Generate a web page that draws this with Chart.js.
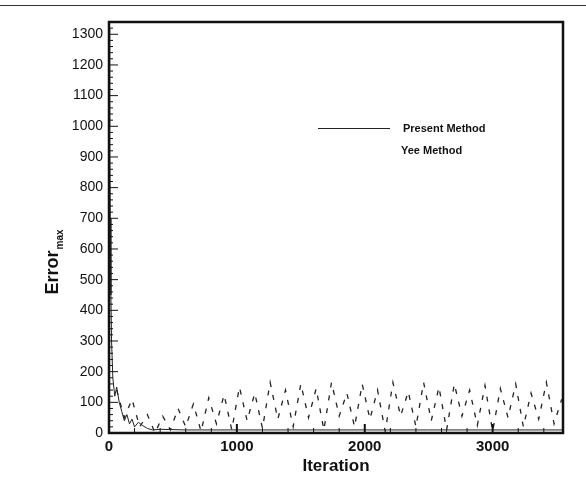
<!DOCTYPE html>
<html lang="en">
<head>
    <meta charset="UTF-8">
    <title>Error vs Iteration</title>
    <script src="https://cdn.jsdelivr.net/npm/chart.js"></script>
    <style>
        html, body {
            margin: 0;
            padding: 0;
            background: #fff;
        }

        .chart-container {
            width: 586px;
            height: 481px;
            position: relative;
        }
    </style>
</head>
<body>
<div class="chart-container">
    <canvas id="errorChart"></canvas>
</div>

<script>
    // tick labels
    const xTicks = [0, 1000, 2000, 3000];
    const yTicks = [0, 100, 200, 300, 400, 500, 600, 700, 800, 900, 1000, 1100, 1200, 1300];

    // Present Method: big spike at start, then flat near zero
    const presentIter = [0, 5, 10, 15, 20, 30, 45, 60, 80, 100, 120, 140, 160, 180, 200, 230, 260, 300, 340, 400, 600, 1000, 1500, 2000, 2500, 3000, 3550];
    const presentError = [1320, 1000, 700, 450, 300, 180, 120, 150, 100, 70, 40, 60, 30, 45, 20, 35, 25, 15, 10, 12, 10, 10, 10, 10, 10, 10, 10];

    // Yee Method: oscillating error
    const yeeIter = [60, 120, 180, 240, 300, 360, 420, 480, 540, 600, 660, 720, 780, 840, 900, 960, 1020, 1080, 1140, 1200,
        1260, 1320, 1380, 1440, 1500, 1560, 1620, 1680, 1740, 1800, 1860, 1920, 1980, 2040, 2100, 2160, 2220, 2280, 2340, 2400,
        2460, 2520, 2580, 2640, 2700, 2760, 2820, 2880, 2940, 3000, 3060, 3120, 3180, 3240, 3300, 3360, 3420, 3480, 3540];
    const yeeError = [140, 50, 110, 20, 60, 0, 55, 10, 80, 20, 95, 5, 115, 30, 125, 10, 150, 40, 130, 15,
        165, 45, 140, 20, 160, 50, 145, 10, 165, 55, 130, 20, 160, 45, 140, 5, 165, 55, 135, 20,
        165, 40, 150, 10, 160, 55, 140, 25, 155, 5, 145, 50, 160, 20, 130, 45, 165, 30, 110];

    const FONT = '"Liberation Sans", Arial, sans-serif';

    // frame, inward ticks, axis title with subscript, legend, page rule
    const decorations = {
        id: 'decorations',
        afterDraw(chart) {
            const ctx = chart.ctx;
            const area = chart.chartArea;
            const xs = chart.scales.x;
            const ys = chart.scales.y;
            ctx.save();
            ctx.strokeStyle = '#111';
            ctx.lineCap = 'butt';

            // ticks on left axis
            ctx.lineWidth = 1;
            for (let v = 0; v <= 1340; v += 20) {
                const y = ys.getPixelForValue(v);
                const len = v % 100 === 0 ? 9 : 4;
                ctx.beginPath();
                ctx.moveTo(area.left, y);
                ctx.lineTo(area.left + len, y);
                ctx.stroke();
            }
            // ticks on bottom axis
            for (let v = 0; v <= 3550; v += 200) {
                const x = xs.getPixelForValue(v);
                const len = v % 1000 === 0 ? 9 : 5;
                ctx.lineWidth = v % 1000 === 0 ? 2 : 1;
                ctx.beginPath();
                ctx.moveTo(x, area.bottom);
                ctx.lineTo(x, area.bottom - len);
                ctx.stroke();
            }

            // plot frame
            ctx.lineWidth = 2.5;
            ctx.strokeRect(area.left, area.top, area.right - area.left, area.bottom - area.top);

            // thin rule across the top of the page
            ctx.lineWidth = 1.2;
            ctx.strokeStyle = '#333';
            ctx.beginPath();
            ctx.moveTo(0, 5.5);
            ctx.lineTo(586, 5.5);
            ctx.stroke();

            // y axis title: Error with subscript max
            ctx.fillStyle = '#111';
            ctx.translate(52, 262);
            ctx.rotate(-Math.PI / 2);
            ctx.font = 'bold 18px ' + FONT;
            const w1 = ctx.measureText('Error').width;
            ctx.font = 'bold 10px ' + FONT;
            const w2 = ctx.measureText('max').width;
            const start = -(w1 + w2 + 1) / 2;
            ctx.textBaseline = 'alphabetic';
            ctx.font = 'bold 18px ' + FONT;
            ctx.fillText('Error', start, 6);
            ctx.font = 'bold 10px ' + FONT;
            ctx.fillText('max', start + w1 + 1, 11);
            ctx.setTransform(1, 0, 0, 1, 0, 0);

            // legend
            ctx.strokeStyle = '#222';
            ctx.lineWidth = 1;
            ctx.beginPath();
            ctx.moveTo(318, 128.5);
            ctx.lineTo(390, 128.5);
            ctx.stroke();
            ctx.font = 'bold 11px ' + FONT;
            ctx.textBaseline = 'middle';
            ctx.fillText('Present Method', 403, 129);
            ctx.fillText('Yee Method', 401, 151);
            ctx.restore();
        }
    };

    new Chart(document.getElementById('errorChart'), {
        type: 'line',
        data: {
            datasets: [
                {
                    label: 'Present Method',
                    data: presentIter.map((x, i) => ({x: x, y: presentError[i]})),
                    borderColor: '#222',
                    borderWidth: 1,
                    pointRadius: 0,
                    tension: 0,
                    fill: false
                },
                {
                    label: 'Yee Method',
                    data: yeeIter.map((x, i) => ({x: x, y: yeeError[i]})),
                    borderColor: '#222',
                    borderWidth: 1.3,
                    borderDash: [5, 8],
                    pointRadius: 0,
                    tension: 0,
                    fill: false
                }
            ]
        },
        options: {
            responsive: true,
            maintainAspectRatio: false,
            animation: false,
            layout: {
                padding: {top: 22, right: 23, left: 0, bottom: 0}
            },
            plugins: {
                legend: {display: false},
                tooltip: {enabled: false}
            },
            scales: {
                x: {
                    type: 'linear',
                    min: 0,
                    max: 3550,
                    afterBuildTicks: s => { s.ticks = xTicks.map(v => ({value: v})); },
                    afterFit: s => { s.height = 48; },
                    grid: {display: false, drawTicks: false},
                    border: {display: false},
                    ticks: {
                        color: '#111',
                        padding: 5,
                        maxRotation: 0,
                        callback: v => String(v),
                        font: {family: FONT, size: 15, weight: 'bold'}
                    },
                    title: {
                        display: true,
                        text: 'Iteration',
                        color: '#111',
                        padding: {top: 0, bottom: 4},
                        font: {family: FONT, size: 17, weight: 'bold'}
                    }
                },
                y: {
                    type: 'linear',
                    min: 0,
                    max: 1340,
                    afterBuildTicks: s => { s.ticks = yTicks.map(v => ({value: v})); },
                    afterFit: s => { s.width = 109; },
                    grid: {display: false, drawTicks: false},
                    border: {display: false},
                    ticks: {
                        color: '#111',
                        padding: 6,
                        callback: v => String(v),
                        font: {family: FONT, size: 14}
                    }
                }
            }
        },
        plugins: [decorations]
    });
</script>
</body>
</html>
